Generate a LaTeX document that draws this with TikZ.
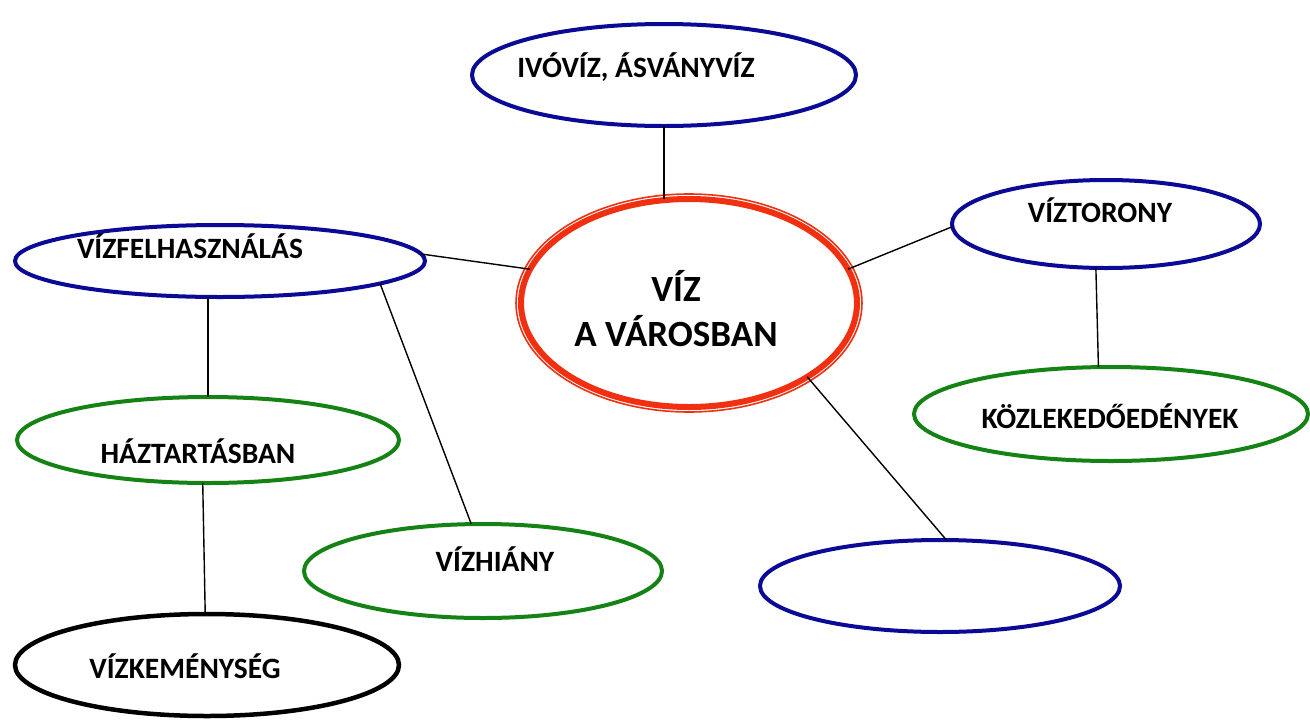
\documentclass[tikz,border=0pt]{standalone}
\usepackage{fontspec}
\setmainfont{Carlito}
\usetikzlibrary{shapes.geometric}
\definecolor{eblue}{RGB}{10,10,150}
\definecolor{egreen}{RGB}{20,130,20}
\definecolor{ered}{RGB}{240,48,16}
\tikzset{
  ell/.style={ellipse, draw, inner sep=0pt, outer sep=0pt, line width=4pt},
  bl/.style={ell, draw=eblue},
  gr/.style={ell, draw=egreen},
  bk/.style={ell, draw=black, line width=4.5pt},
  lab/.style={font=\fontsize{29.5}{34}\selectfont\bfseries},
  conn/.style={draw=black, line width=1.4pt},
}
\begin{document}
\begin{tikzpicture}[x=1pt,y=-1pt]
\useasboundingbox (0,0) rectangle (1310,721);
\fill[white] (0,0) rectangle (1310,721);
% centre
\node[ell, draw=ered, line width=6pt, minimum width=336pt, minimum height=208pt] (c) at (689,303) {};
\draw[ered, line width=1.6pt] (c.center) ellipse [x radius=173, y radius=109];
\node[font=\fontsize{37}{45}\selectfont\bfseries, align=center] (ct) at (676,309) {VÍZ\\A VÁROSBAN};
% outer nodes
\node[bl, minimum width=384pt, minimum height=102pt,
  label={[lab, xshift=-28pt, yshift=8pt]center:IVÓVÍZ, ÁSVÁNYVÍZ}] (iv) at (664,75) {};
\node[bl, minimum width=410pt, minimum height=72pt,
  label={[lab, xshift=-30pt, yshift=15pt]center:VÍZFELHASZNÁLÁS}] (vf) at (220,261) {};
\node[bl, minimum width=308pt, minimum height=88pt,
  label={[lab, xshift=-6pt, yshift=14pt]center:VÍZTORONY}] (vt) at (1106,224) {};
\node[gr, minimum width=394pt, minimum height=94pt,
  label={[lab, xshift=-1pt, yshift=-2pt]center:KÖZLEKEDŐEDÉNYEK}] (ko) at (1111,414) {};
\node[gr, minimum width=382pt, minimum height=86pt,
  label={[lab, xshift=-10pt, yshift=-11pt]center:HÁZTARTÁSBAN}] (ha) at (208,440) {};
\node[gr, minimum width=358pt, minimum height=94pt,
  label={[lab, xshift=12pt, yshift=12pt]center:VÍZHIÁNY}] (vh) at (483,571) {};
\node[bl, minimum width=360pt, minimum height=92pt] (bx) at (940,586) {};
\node[bk, minimum width=384pt, minimum height=102pt,
  label={[lab, xshift=-22pt, yshift=-1pt]center:VÍZKEMÉNYSÉG}] (vk) at (207,665) {};
% connectors
\draw[conn] (iv.south) -- (iv.south |- c.north);
\draw[conn] (vf.2.5) -- (c.168.5);
\draw[conn] (ha.north |- vf.south) -- (ha.north);
\draw[conn] (vf.-8.9) -- (vh.104.9);
\draw[conn] (vt.181.5) -- (c.12.1);
\draw[conn] (vt.257.7) -- (ko.105.5);
\draw[conn] (c.-32.5) -- (bx.82.6);
\draw[conn] (ha.263.7) -- (vk.92.5);
\end{tikzpicture}
\end{document}
